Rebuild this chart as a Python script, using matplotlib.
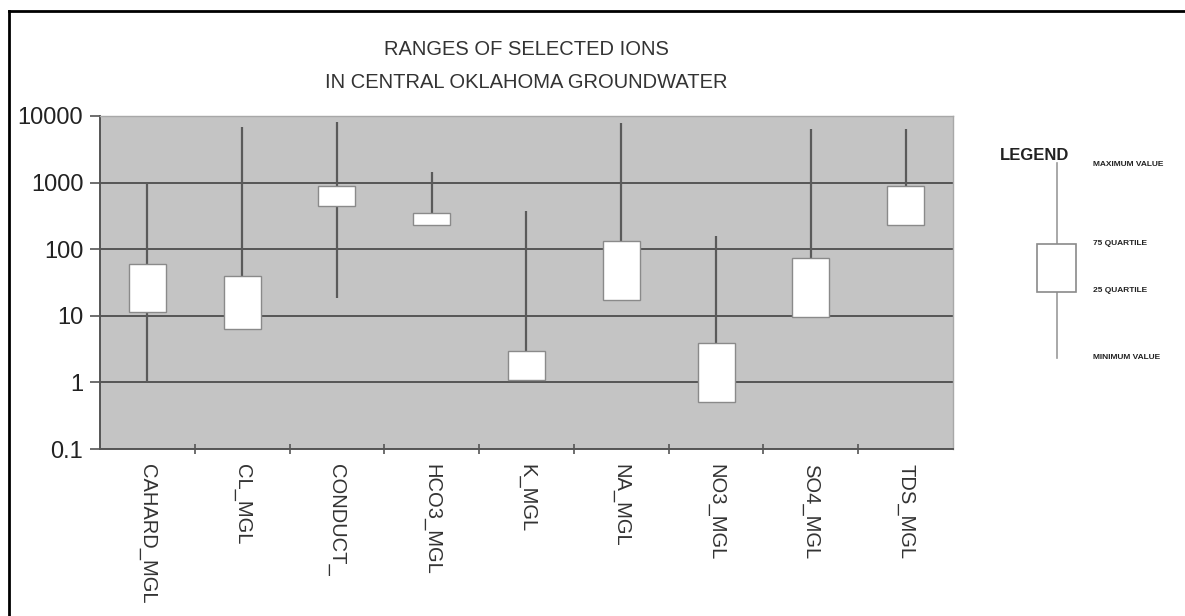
import matplotlib
matplotlib.use("Agg")
import matplotlib.pyplot as plt
from matplotlib.lines import Line2D

# Ionen und Kennwerte (mg/l)
ions = ["CAHARD_MGL", "CL_MGL", "CONDUCT_", "HCO3_MGL", "K_MGL",
        "NA_MGL", "NO3_MGL", "SO4_MGL", "TDS_MGL"]
v_min = [1.0, 6.3, 18.6, 230, 1.05, 17.4, 0.5, 9.7, 230]
q25 = [11.5, 6.3, 445, 230, 1.07, 17.4, 0.5, 9.7, 230]
q75 = [60, 40, 900, 345, 3.0, 132, 3.9, 73, 900]
v_max = [1000, 6800, 8100, 1460, 372, 7900, 157, 6300, 6300]

y_ticks = [0.1, 1, 10, 100, 1000, 10000]
y_labels = ["0.1", "1", "10", "100", "1000", "10000"]

legend_labels = ["MAXIMUM VALUE", "75 QUARTILE", "25 QUARTILE", "MINIMUM VALUE"]

plain = ["Liberation Sans", "DejaVu Sans"]

fig = plt.figure(figsize=(11.85, 6.16), dpi=100)
ax = fig.add_axes([0.0844, 0.2711, 0.7198, 0.5406])
ax.set_facecolor("#c4c4c4")

pos = list(range(len(ions)))
ax.vlines(pos, v_min, v_max, color="#5a5a5a", lw=1.6, zorder=3)
ax.bar(pos, [h - l for h, l in zip(q75, q25)], bottom=q25, width=0.39,
       color="white", edgecolor="#8a8a8a", lw=1.0, zorder=4)

ax.set_yscale("log")
ax.set_ylim(0.1, 10000)
ax.set_xlim(-0.5, len(ions) - 0.5)
ax.set_yticks(y_ticks)
ax.set_yticklabels(y_labels, family=plain, fontsize=17, color="#222222")
ax.minorticks_off()
ax.yaxis.grid(True, color="#555555", lw=1.4)
ax.set_axisbelow(True)

ax.set_xticks([p + 0.5 for p in pos[:-1]], minor=True)
ax.set_xticks(pos)
ax.set_xticklabels(ions, rotation=270, family=plain, fontsize=14.5,
                   color="#333333", va="top")
ax.tick_params(axis="x", which="major", length=0, pad=11)
ax.tick_params(axis="x", which="minor", length=7, width=1.2, color="#555555",
               direction="inout")
ax.tick_params(axis="y", length=7, width=1.2, color="#555555", pad=5)

for s in ["left", "bottom"]:
    ax.spines[s].set_color("#555555")
    ax.spines[s].set_linewidth(1.4)
for s in ["top", "right"]:
    ax.spines[s].set_color("#a8a8a8")
    ax.spines[s].set_linewidth(1.0)

ax.set_title("RANGES OF SELECTED IONS\nIN CENTRAL OKLAHOMA GROUNDWATER",
             family=plain, fontsize=14.5, color="#333333", pad=20,
             linespacing=1.95)

# Legende als Schema
fig.text(0.844, 0.748, "LEGEND", family=plain, fontsize=12,
         fontweight="bold", color="#222222", va="center")
lg = fig.add_axes([0.861, 0.40, 0.139, 0.35])
lg.set_xlim(0, 1)
lg.set_ylim(0, 1)
lg.axis("off")
lg.plot([0.22, 0.22], [0.054, 0.958], color="#9a9a9a", lw=1.2)
lg.bar(0.22, 0.223, bottom=0.36, width=0.24, color="white",
       edgecolor="#8a8a8a", lw=1.2, zorder=3)
for yy, lab in zip([0.949, 0.583, 0.365, 0.058], legend_labels):
    lg.text(0.44, yy, lab, family=plain, fontsize=6, fontweight="bold",
            color="#222222", va="center")

# Rahmen links und oben
fig.add_artist(Line2D([0.0076, 0.0076], [0, 0.982], color="black", lw=2,
                      transform=fig.transFigure))
fig.add_artist(Line2D([0.0076, 1], [0.982, 0.982], color="black", lw=2,
                      transform=fig.transFigure))

fig.savefig("out.png", dpi=100, facecolor="white")
